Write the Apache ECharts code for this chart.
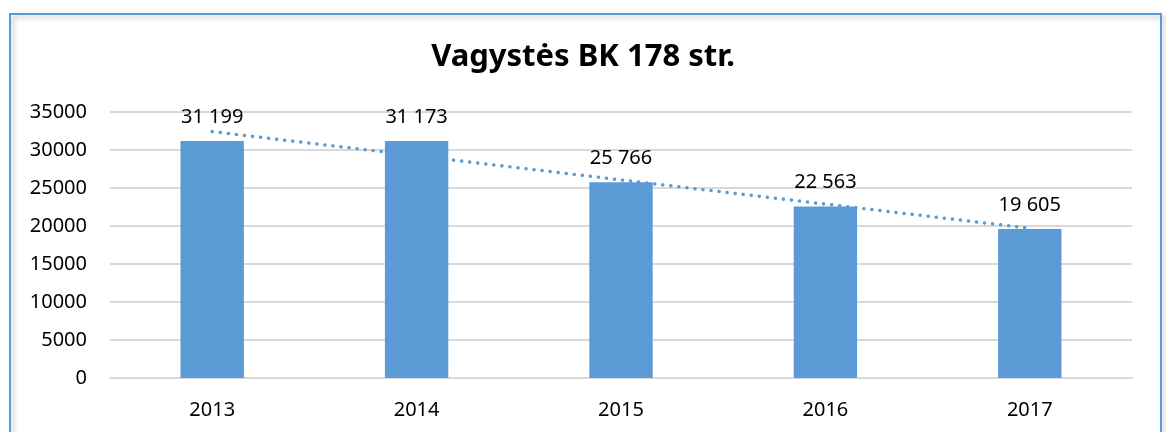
<!DOCTYPE html>
<html>
<head>
<meta charset="utf-8">
<script src="https://cdn.jsdelivr.net/npm/echarts@6/dist/echarts.min.js"></script>
<style>
  html, body { margin: 0; padding: 0; background: #fff; }
  #chart { width: 1166px; height: 432px; }
</style>
</head>
<body>
<div id="chart"></div>
<script>
var years = ['2013', '2014', '2015', '2016', '2017'];
var thefts = [31199, 31173, 25766, 22563, 19605];
var yTicks = [0, 5000, 10000, 15000, 20000, 25000, 30000, 35000];

// linear trend (least squares) like the spreadsheet trendline
function trendOf(vals) {
    var n = vals.length, mx = (n + 1) / 2, my = 0;
    vals.forEach(function (v) { my += v; });
    my /= n;
    var num = 0, den = 0;
    vals.forEach(function (v, i) {
        num += (i + 1 - mx) * (v - my);
        den += (i + 1 - mx) * (i + 1 - mx);
    });
    var k = num / den;
    return vals.map(function (v, i) { return my + k * (i + 1 - mx); });
}
var trend = trendOf(thefts);

function spaced(v) {
    return String(v).replace(/\B(?=(\d{3})+(?!\d))/g, ' ');
}

var chart = echarts.init(document.getElementById('chart'));
var font = "'Noto Sans', 'Open Sans', sans-serif";

var option = {
    animation: false,
    textStyle: { fontFamily: font },
    title: {
        text: 'Vagystės BK 178 str.',
        left: 'center',
        top: 37,
        textStyle: { fontSize: 31, fontWeight: 'bold', color: '#000', fontFamily: font }
    },
    graphic: [{
        type: 'rect',
        shape: { x: 10, y: 14, width: 1151, height: 440 },
        style: {
            fill: 'none',
            stroke: '#5B9BD5',
            lineWidth: 2,
            shadowColor: 'rgba(0,0,0,0.25)',
            shadowBlur: 4,
            shadowOffsetX: 3,
            shadowOffsetY: 3
        },
        silent: true,
        z: -1
    }],
    grid: { left: 110, right: 34, top: 112, bottom: 54 },
    xAxis: {
        type: 'category',
        data: years,
        axisLine: { lineStyle: { color: '#D9D9D9', width: 2 } },
        axisTick: { show: false },
        axisLabel: { color: '#000', fontSize: 20, margin: 22 }
    },
    yAxis: {
        type: 'value',
        min: yTicks[0],
        max: yTicks[yTicks.length - 1],
        interval: 5000,
        axisLine: { show: false },
        axisTick: { show: false },
        axisLabel: { color: '#000', fontSize: 20, margin: 23, formatter: function (v) { return String(v); } },
        splitLine: { lineStyle: { color: '#D9D9D9', width: 2 } }
    },
    series: [{
        type: 'bar',
        data: thefts,
        barWidth: '31%',
        itemStyle: { color: '#5B9BD5' },
        label: {
            show: true,
            position: 'top',
            distance: 14,
            color: '#000',
            fontSize: 20,
            formatter: function (p) { return spaced(p.value); }
        }
    }, {
        type: 'line',
        data: trend,
        symbol: 'none',
        z: 5,
        lineStyle: { color: '#5B9BD5', width: 3.5, type: [0.1, 8], cap: 'round' }
    }]
};
chart.setOption(option);
</script>
</body>
</html>
